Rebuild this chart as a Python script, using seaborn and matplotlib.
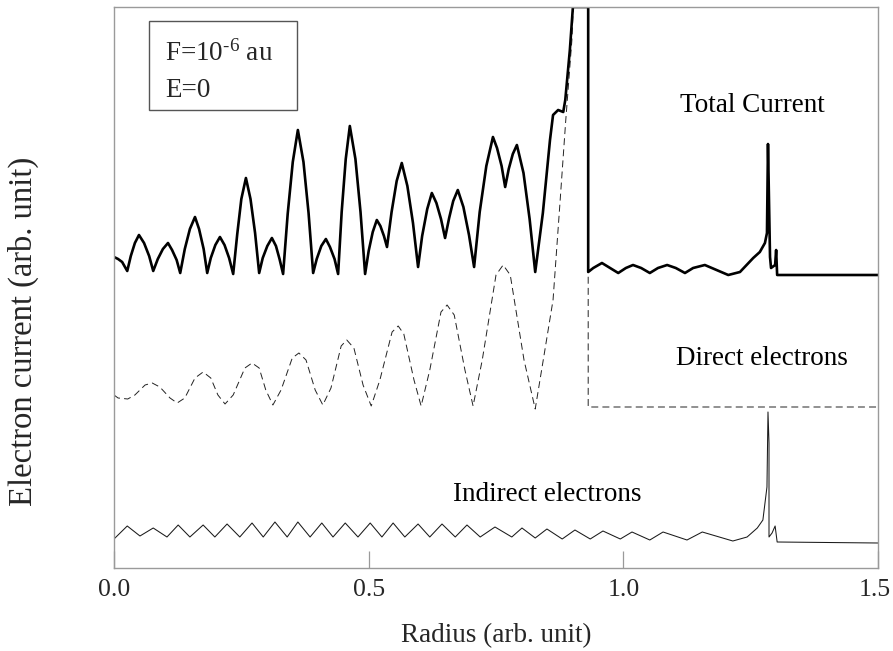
import matplotlib
matplotlib.use("Agg")
import matplotlib.pyplot as plt
import matplotlib.transforms as mtransforms
import seaborn as sns
import pandas as pd
from matplotlib.patches import Rectangle

# ---------------- data (Radius in arb. unit, current in arb. unit) ----------------
total_x = [0.000, 0.008, 0.016, 0.026,
           0.033, 0.041, 0.049, 0.059, 0.069, 0.077,
           0.086, 0.096, 0.106, 0.114, 0.123, 0.130,
           0.139, 0.149, 0.159, 0.167, 0.176, 0.183,
           0.190, 0.199, 0.208, 0.217, 0.226, 0.234,
           0.242, 0.250, 0.259, 0.268, 0.277, 0.285,
           0.292, 0.301, 0.310, 0.318, 0.325, 0.332,
           0.341, 0.351, 0.361, 0.372, 0.382, 0.391,
           0.398, 0.407, 0.416, 0.424, 0.433, 0.440,
           0.447, 0.455, 0.463, 0.474, 0.484, 0.493,
           0.500, 0.508, 0.516, 0.523, 0.530, 0.536,
           0.545, 0.555, 0.565, 0.576, 0.587, 0.597,
           0.605, 0.615, 0.624, 0.633, 0.642, 0.650,
           0.658, 0.666, 0.675, 0.686, 0.697, 0.707,
           0.718, 0.731, 0.744, 0.752, 0.761, 0.768,
           0.775, 0.783, 0.791, 0.804, 0.816, 0.827,
           0.842, 0.856, 0.862, 0.872, 0.882, 0.886, 0.889, 0.895, 0.901,
           0.931, 0.931,
           0.941, 0.958, 0.974, 0.990, 1.005, 1.019, 1.035, 1.052, 1.068, 1.086, 1.103, 1.121, 1.137,
           1.160, 1.206, 1.229, 1.255, 1.268, 1.278, 1.282, 1.284, 1.288, 1.290, 1.298, 1.300, 1.302, 1.500]
total_y = [311, 309, 306, 297,
           312, 325, 333, 325, 312, 297,
           309, 319, 325, 318, 308, 295,
           319, 339, 351, 339, 319, 295,
           310, 323, 331, 323, 310, 294,
           334, 369, 390, 369, 335, 295,
           310, 322, 330, 322, 309, 294,
           354, 406, 438, 406, 355, 295,
           309, 322, 329, 321, 309, 294,
           356, 409, 442, 409, 356, 294,
           317, 336, 348, 342, 332, 321,
           356, 387, 405, 382, 345, 301,
           332, 359, 375, 365, 349, 330,
           350, 367, 378, 361, 333, 301,
           356, 402, 431, 420, 402, 381,
           399, 414, 423, 395, 349, 296,
           355, 428, 453, 458, 456, 468, 485, 518, 561,
           561, 296,
           300, 305, 300, 295, 300, 303, 300, 295, 300, 303, 300, 295, 300,
           303, 293, 296, 310, 316, 325, 335, 424, 311, 300, 303, 318, 293, 293]

direct_x = [0.000, 0.008, 0.027, 0.041, 0.061, 0.075, 0.090, 0.110, 0.124,
            0.139, 0.159, 0.175, 0.190, 0.204, 0.218,
            0.234, 0.257, 0.271, 0.285, 0.298, 0.312,
            0.328, 0.350, 0.363, 0.377, 0.395, 0.410,
            0.426, 0.446, 0.457, 0.471, 0.489, 0.505,
            0.522, 0.546, 0.558, 0.569, 0.589, 0.603,
            0.620, 0.642, 0.654, 0.668, 0.689, 0.705,
            0.723, 0.750, 0.764, 0.778, 0.805, 0.827,
            0.846, 0.862, 0.876, 0.887, 0.899, 0.905, 0.931, 0.931, 1.500]
direct_y = [173, 170, 169, 173, 183, 185, 181, 170, 165,
            170, 190, 196, 190, 173, 164,
            173, 200, 205, 200, 178, 163,
            178, 210, 215, 208, 178, 163,
            180, 222, 228, 220, 183, 162,
            188, 236, 242, 234, 188, 162,
            198, 256, 263, 253, 198, 162,
            208, 293, 303, 293, 208, 159,
            218, 268, 368, 448, 528, 600, 600, 161, 161]

indirect_x = [0.000, 0.026, 0.051, 0.077, 0.104, 0.126, 0.149, 0.175, 0.198, 0.222,
              0.247, 0.271, 0.293, 0.316, 0.340, 0.361, 0.385, 0.408, 0.430, 0.454,
              0.479, 0.503, 0.526, 0.548, 0.571, 0.597, 0.620, 0.644, 0.670, 0.693,
              0.719, 0.748, 0.781, 0.801, 0.827, 0.850, 0.880, 0.905, 0.935, 0.960,
              0.994, 1.017, 1.052, 1.078, 1.125, 1.155, 1.215, 1.243, 1.263, 1.274,
              1.282, 1.284, 1.286, 1.286, 1.292, 1.298, 1.302, 1.500]
indirect_y = [29, 42, 32, 40, 31, 43, 31, 43, 31, 44,
              31, 45, 31, 46, 31, 46, 31, 45, 31, 45,
              31, 45, 31, 45, 31, 44, 31, 44, 31, 43,
              31, 41, 31, 40, 30, 39, 29, 38, 29, 37,
              29, 36, 28, 36, 28, 36, 27, 31, 40, 48,
              81, 156, 125, 31, 35, 42, 26, 25]

x_ticks = [0.0, 0.5, 1.0, 1.5]
x_tick_labels = ["0.0", "0.5", "1.0", "1.5"]
series_labels = ["Total Current", "Direct electrons", "Indirect electrons"]
label_x = [1.253, 1.272, 0.850]
label_y = [463, 210, 74]
box_lines = ["F=10$^{\\mathrm{\u20106}}$ au", "E=0"]
x_label = "Radius (arb. unit)"
y_label = "Electron current (arb. unit)"

# ---------------- style ----------------
sns.set_style("white")
plt.rcParams["font.family"] = ["Liberation Serif", "DejaVu Serif"]
plt.rcParams["mathtext.fontset"] = "custom"
plt.rcParams["mathtext.rm"] = "Liberation Serif"
plt.rcParams["mathtext.it"] = "Liberation Serif:italic"
plt.rcParams["mathtext.bf"] = "Liberation Serif:bold"
plt.rcParams["lines.scale_dashes"] = False

FS = 19.5
TFS = 18.5
YFS = 23.5
SPINE = "#9a9a9a"

fig = plt.figure(figsize=(8.93, 6.51), dpi=100)
ax = fig.add_axes([114 / 893, 1 - 568 / 651, 764 / 893, 561 / 651])

df_t = pd.DataFrame({"r": total_x, "c": total_y})
df_d = pd.DataFrame({"r": direct_x, "c": direct_y})
df_i = pd.DataFrame({"r": indirect_x, "c": indirect_y})

sns.lineplot(data=df_i, x="r", y="c", ax=ax, sort=False, estimator=None,
             color="#1a1a1a", linewidth=0.75)
sns.lineplot(data=df_d, x="r", y="c", ax=ax, sort=False, estimator=None,
             color="#222222", linewidth=0.7, linestyle=(0, (5.0, 3.0)))
sns.lineplot(data=df_t, x="r", y="c", ax=ax, sort=False, estimator=None,
             color="black", linewidth=1.9)

ax.set_xlim(0, 1.5)
ax.set_ylim(0, 561)
ax.set_xticks(x_ticks)
ax.set_xticklabels(x_tick_labels, fontsize=TFS)
ax.set_yticks([])
ax.tick_params(axis="x", direction="in", length=12, width=0.9, color=SPINE,
               pad=8, bottom=True, top=False)
# keep the last tick label inside the figure edge
last = ax.get_xticklabels()[-1]
last.set_transform(last.get_transform() +
                   mtransforms.ScaledTranslation(-3 / 100, 0, fig.dpi_scale_trans))
for s in ax.spines.values():
    s.set_color(SPINE)
    s.set_linewidth(1.0)
    s.set_visible(True)

ax.set_xlabel(x_label, fontsize=FS, va="center")
ax.xaxis.set_label_coords(0.5, -0.121)
ax.set_ylabel(y_label, fontsize=YFS, va="center")
ax.yaxis.set_label_coords(-0.118, 0.4225)

for txt, tx, ty in zip(series_labels, label_x, label_y):
    ax.text(tx, ty, txt, fontsize=FS, ha="center", va="center", color="black")

# parameter box
ax.add_patch(Rectangle((0.0458, 0.8164), 0.1937, 0.1586, transform=ax.transAxes,
                       fill=False, edgecolor="#555555", linewidth=1.0))
ax.text(0.0668, 0.918, box_lines[0], transform=ax.transAxes, fontsize=FS,
        ha="left", va="center")
ax.text(0.0668, 0.852, box_lines[1], transform=ax.transAxes, fontsize=FS,
        ha="left", va="center")

fig.savefig("out.png", dpi=100)
